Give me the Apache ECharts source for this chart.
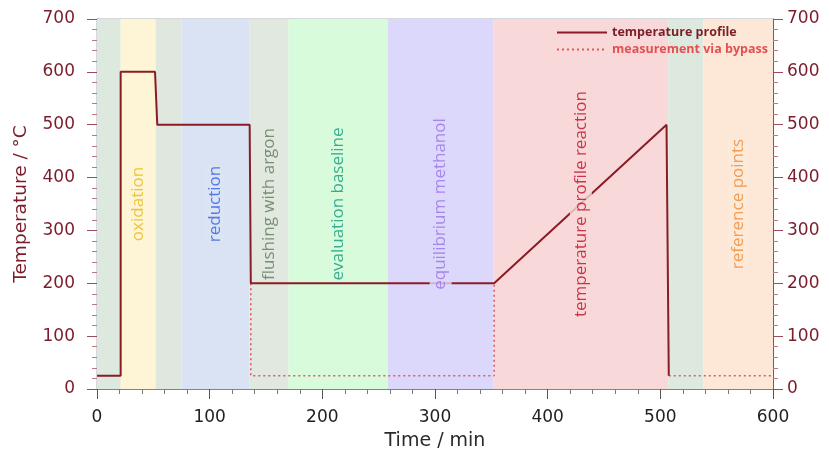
<!DOCTYPE html>
<html>
<head>
<meta charset="utf-8">
<script src="https://cdn.jsdelivr.net/npm/echarts@6/dist/echarts.min.js"></script>
<style>
  html, body { margin: 0; padding: 0; background: #fff; }
  #chart { width: 829px; height: 456px; }
</style>
</head>
<body>
<div id="chart"></div>
<script>
// Process stages (time in min)
const stageStart = [0, 21, 52, 75, 135.5, 170, 258, 352, 507, 538];
const stageEnd   = [21, 52, 75, 135.5, 170, 258, 352, 507, 538, 600];
const stageNames = ['', 'oxidation', '', 'reduction', 'flushing with argon',
                    'evaluation baseline', 'equilibrium methanol',
                    'temperature profile reaction', '', 'reference points'];

// Set-point temperature profile
const profileTime = [0, 21, 21, 51.5, 53.5, 135.5, 136.5, 352.5, 505.5, 507, 507.5];
const profileTemp = [25, 25, 600, 600, 500, 500, 200, 200, 500, 500, 25];

// Temperature measured via bypass (null splits the two segments)
const bypassTime = [136.5, 136.5, 352.5, 352.5, null, 507.5, 600];
const bypassTemp = [200, 25, 25, 200, null, 25, 25];

// Axis ticks
const timeTicks = [0, 100, 200, 300, 400, 500, 600];
const tempTicks = [0, 100, 200, 300, 400, 500, 600, 700];

const bandColors = ['#dde8de', '#fdf5d6', '#dfe7df', '#d9e3f3', '#e1e8df',
                    '#d8fbdc', '#dcd8fb', '#f8d8d8', '#dde9de', '#fde8d8'];
const stageTextColors = ['', '#eeb810', '', '#2f5cec', '#5f755f',
                         '#14987e', '#9a72e6', '#bf0a28', '', '#ee8a36'];

const labelLevel = 350;
const axisFont = 'DejaVu Sans';
const stageFont = 'Open Sans';

const chart = echarts.init(document.getElementById('chart'), null, { renderer: 'canvas' });

const bandData = stageStart.map((s, i) => [
  { xAxis: s, itemStyle: { color: bandColors[i] } },
  { xAxis: stageEnd[i] }
]);

const stageLabelData = [];
stageNames.forEach((n, i) => {
  if (!n) return;
  stageLabelData.push({
    name: n,
    value: [(stageStart[i] + stageEnd[i]) / 2, labelLevel],
    label: {
      color: stageTextColors[i],
      backgroundColor: bandColors[i]
    }
  });
});

const yAxisCommon = {
  type: 'value',
  min: tempTicks[0],
  max: tempTicks[tempTicks.length - 1],
  interval: 100,
  axisLine: { show: true, lineStyle: { color: '#9c4a58', width: 1 } },
  axisTick: { show: true, length: 10, lineStyle: { color: '#9c4a58' } },
  minorTick: { show: true, splitNumber: 5, length: 5, lineStyle: { color: '#b87a85' } },
  splitLine: { show: false },
  axisLabel: { fontFamily: axisFont, fontSize: 17, color: '#7b1c2a' }
};

chart.setOption({
  animation: false,
  backgroundColor: '#ffffff',
  grid: {
    left: 97, right: 56, top: 19, bottom: 67,
    show: true, borderColor: '#aab0ba', borderWidth: 1, backgroundColor: 'transparent'
  },
  legend: {
    left: 556, top: 26, orient: 'vertical',
    padding: 0, itemWidth: 50, itemHeight: 14, itemGap: 4,
    itemStyle: { opacity: 0 },
    textStyle: { fontFamily: stageFont, fontSize: 12.5, fontWeight: 'bold' },
    data: [
      { name: 'temperature profile', textStyle: { color: '#7a1f28' } },
      { name: 'measurement via bypass', textStyle: { color: '#e45050' } }
    ]
  },
  xAxis: {
    type: 'value',
    min: timeTicks[0],
    max: timeTicks[timeTicks.length - 1],
    interval: 100,
    name: 'Time / min',
    nameLocation: 'middle',
    nameGap: 43,
    nameTextStyle: { fontFamily: axisFont, fontSize: 19, color: '#2a2a2a' },
    axisLine: { show: true, lineStyle: { color: '#b07078', width: 1 } },
    axisTick: { show: true, length: 10, lineStyle: { color: '#555' } },
    minorTick: { show: true, splitNumber: 5, length: 5, lineStyle: { color: '#777' } },
    splitLine: { show: false },
    axisLabel: { fontFamily: axisFont, fontSize: 17, color: '#222', margin: 20 }
  },
  yAxis: [
    Object.assign({}, yAxisCommon, {
      position: 'left',
      name: 'Temperature / °C',
      nameLocation: 'middle',
      nameGap: 66,
      nameTextStyle: { fontFamily: axisFont, fontSize: 18.5, color: '#7b1c2a' },
      axisLabel: Object.assign({}, yAxisCommon.axisLabel, { margin: 22 })
    }),
    Object.assign({}, yAxisCommon, {
      position: 'right',
      axisLabel: Object.assign({}, yAxisCommon.axisLabel, { margin: 14 })
    })
  ],
  series: [
    {
      name: 'stages',
      type: 'line',
      data: [],
      z: 1,
      silent: true,
      markArea: { silent: true, data: bandData }
    },
    {
      name: 'measurement via bypass',
      type: 'line',
      z: 3,
      symbol: 'none',
      connectNulls: false,
      lineStyle: { color: '#e05a5a', width: 1.6, type: [2, 3] },
      itemStyle: { color: '#e05a5a' },
      data: bypassTime.map((t, i) => t === null ? ['-', '-'] : [t, bypassTemp[i]])
    },
    {
      name: 'temperature profile',
      type: 'line',
      z: 4,
      symbol: 'none',
      lineStyle: { color: '#8b1c26', width: 2 },
      itemStyle: { color: '#8b1c26' },
      data: profileTime.map((t, i) => [t, profileTemp[i]])
    },
    {
      name: 'stage labels',
      type: 'scatter',
      z: 6,
      symbolSize: 0,
      silent: true,
      label: {
        show: true,
        position: 'inside',
        rotate: 90,
        formatter: p => p.name,
        fontFamily: stageFont,
        fontSize: 17,
        lineHeight: 18,
        padding: [2, 0, 2, 0]
      },
      data: stageLabelData
    }
  ]
});
</script>
</body>
</html>
